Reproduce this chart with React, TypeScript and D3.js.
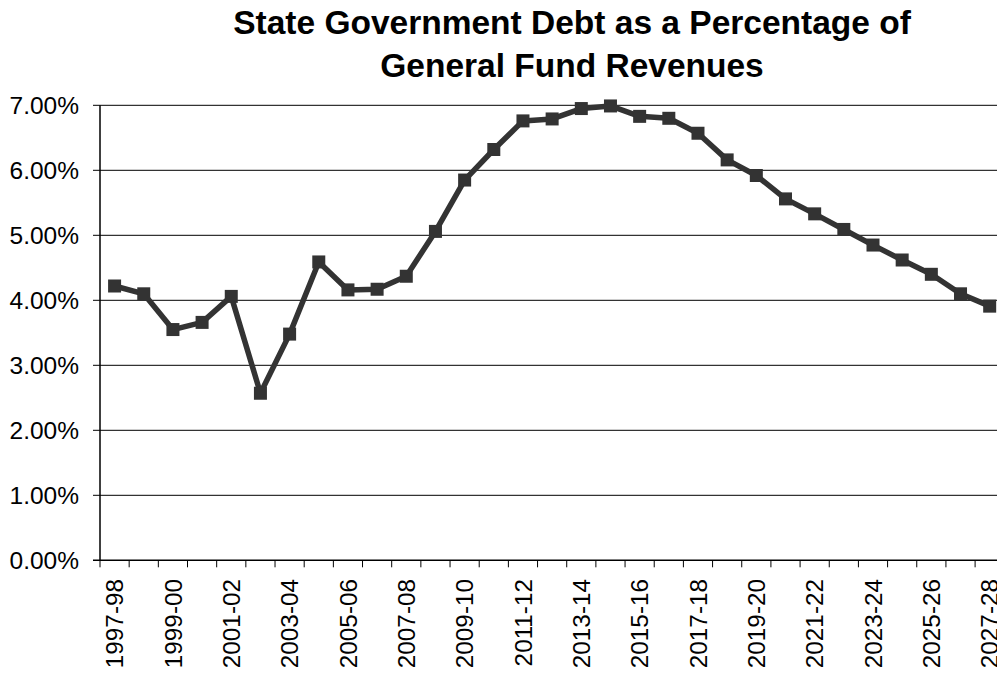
import React from "react";
import * as d3 from "d3";

const categories: string[] = [
  "1997-98", "1998-99", "1999-00", "2000-01", "2001-02", "2002-03", "2003-04", "2004-05",
  "2005-06", "2006-07", "2007-08", "2008-09", "2009-10", "2010-11", "2011-12", "2012-13",
  "2013-14", "2014-15", "2015-16", "2016-17", "2017-18", "2018-19", "2019-20", "2020-21",
  "2021-22", "2022-23", "2023-24", "2024-25", "2025-26", "2026-27", "2027-28",
];

const debtPct: number[] = [
  4.22, 4.10, 3.55, 3.66, 4.06, 2.57, 3.48, 4.59,
  4.16, 4.17, 4.37, 5.06, 5.85, 6.32, 6.76, 6.79,
  6.95, 6.99, 6.83, 6.80, 6.57, 6.16, 5.92, 5.56,
  5.33, 5.09, 4.85, 4.62, 4.40, 4.10, 3.91,
];

const yTicks: number[] = [0, 1, 2, 3, 4, 5, 6, 7];
const titleLines: string[] = ["State Government Debt as a Percentage of", "General Fund Revenues"];

const W = 997;
const H = 675;
const left = 100;
const bw = 29.17;
const top = 105.3;
const bottom = 560.3;
const FONT = "'Liberation Sans', Arial, sans-serif";

export default function App() {
  const x = d3
    .scaleBand<string>()
    .domain(categories)
    .range([left, left + bw * categories.length])
    .paddingInner(0)
    .paddingOuter(0);
  const y = d3.scaleLinear().domain([0, 7]).range([bottom, top]);
  const cx = (c: string) => (x(c) as number) + x.bandwidth() / 2;

  const data = categories.map((c, i) => ({ c, v: debtPct[i] }));
  const line = d3
    .line<{ c: string; v: number }>()
    .x((d) => cx(d.c))
    .y((d) => y(d.v));

  const boundaries = d3.range(categories.length + 1).map((i) => left + i * x.bandwidth());
  const ms = 13;

  return (
    <div style={{ position: "absolute", left: 0, top: 0 }}>
      <svg width={W} height={H} style={{ display: "block", background: "#fff" }} fontFamily={FONT}>
        <rect x={0} y={0} width={W} height={H} fill="#fff" />
        {titleLines.map((t, i) => (
          <text key={t} x={572} y={34 + i * 43.3} textAnchor="middle" fontSize={33.5} fontWeight="bold" fill="#000">
            {t}
          </text>
        ))}
        {yTicks.map((t) => (
          <line key={"g" + t} x1={left - 7} x2={W} y1={y(t)} y2={y(t)} stroke="#000" strokeWidth={t === 0 ? 1.5 : 1} />
        ))}
        {yTicks.map((t) => (
          <text key={"yl" + t} x={79} y={y(t)} dy="0.36em" textAnchor="end" fontSize={24.5} fill="#000">
            {t.toFixed(2) + "%"}
          </text>
        ))}
        <line x1={left} x2={left} y1={top} y2={bottom} stroke="#000" strokeWidth={1.5} />
        {boundaries.map((bx, i) => (
          <line key={"xt" + i} x1={bx} x2={bx} y1={bottom} y2={bottom + 7} stroke="#000" strokeWidth={1} />
        ))}
        {categories.map((c, i) =>
          i % 2 === 0 ? (
            <text
              key={"xl" + c}
              transform={`translate(${cx(c)},${579}) rotate(-90)`}
              dy="0.36em"
              textAnchor="end"
              fontSize={24.3}
              fill="#000"
            >
              {c}
            </text>
          ) : null
        )}
        <path d={line(data) || ""} fill="none" stroke="#333333" strokeWidth={5.5} strokeLinejoin="round" />
        {data.map((d) => (
          <rect key={"m" + d.c} x={cx(d.c) - ms / 2} y={y(d.v) - ms / 2} width={ms} height={ms} fill="#333333" />
        ))}
      </svg>
    </div>
  );
}
